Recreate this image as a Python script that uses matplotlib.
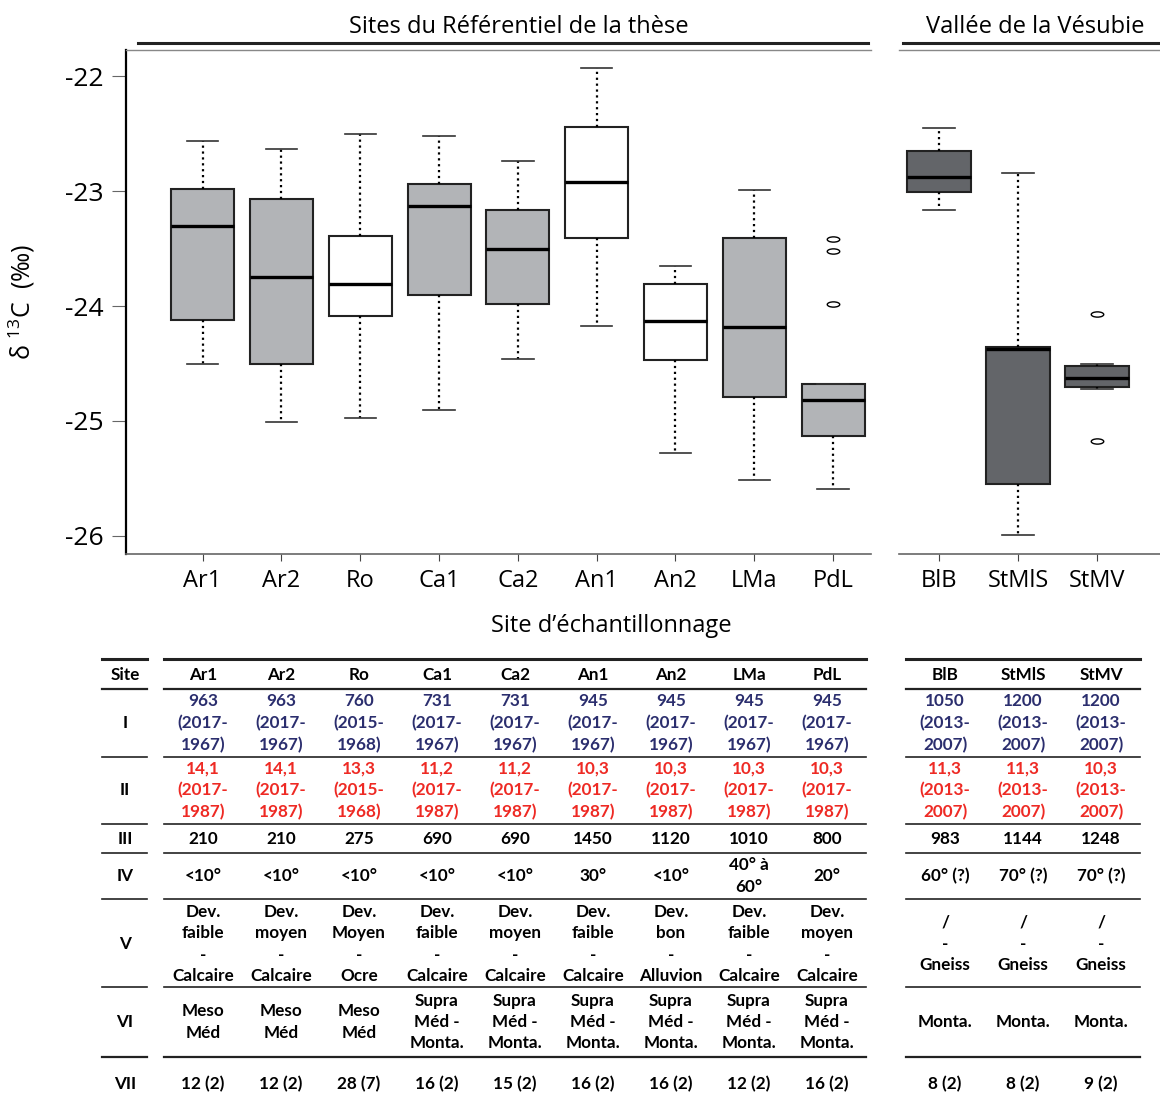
import numpy as np
import matplotlib
matplotlib.use('Agg')
import matplotlib.pyplot as plt
from matplotlib.lines import Line2D
from matplotlib.path import Path
from matplotlib.transforms import Affine2D

plt.rcParams['font.family'] = ['Open Sans', 'DejaVu Sans']
plt.rcParams['mathtext.default'] = 'regular'

# Data - delta 13C boxplot statistics
sites_ref = ['Ar1', 'Ar2', 'Ro', 'Ca1', 'Ca2', 'An1', 'An2', 'LMa', 'PdL']
whishi_ref = [-22.56, -22.63, -22.50, -22.52, -22.74, -21.93, -23.65, -22.99, -24.68]
q3_ref = [-22.98, -23.07, -23.39, -22.94, -23.16, -22.44, -23.81, -23.41, -24.68]
med_ref = [-23.30, -23.75, -23.81, -23.13, -23.50, -22.92, -24.13, -24.18, -24.82]
q1_ref = [-24.12, -24.50, -24.09, -23.90, -23.98, -23.41, -24.47, -24.79, -25.13]
whislo_ref = [-24.50, -25.01, -24.97, -24.90, -24.46, -24.17, -25.28, -25.51, -25.59]
fliers_ref = [[], [], [], [], [], [], [], [], [-23.42, -23.52, -23.98]]
colors_ref = ['#b2b4b7', '#b2b4b7', 'white', '#b2b4b7', '#b2b4b7',
              'white', 'white', '#b2b4b7', '#b2b4b7']

sites_ves = ['BlB', 'StMlS', 'StMV']
whishi_ves = [-22.45, -22.84, -24.50]
q3_ves = [-22.65, -24.36, -24.52]
med_ves = [-22.88, -24.37, -24.63]
q1_ves = [-23.01, -25.55, -24.70]
whislo_ves = [-23.16, -25.99, -24.72]
fliers_ves = [[], [], [-24.07, -25.17]]
colors_ves = ['#636569', '#636569', '#636569']

# Table
row_labels = ['Site', 'I', 'II', 'III', 'IV', 'V', 'VI', 'VII']
tab_ref = [
    sites_ref,
    ['963\n(2017-\n1967)', '963\n(2017-\n1967)', '760\n(2015-\n1968)', '731\n(2017-\n1967)',
     '731\n(2017-\n1967)', '945\n(2017-\n1967)', '945\n(2017-\n1967)', '945\n(2017-\n1967)',
     '945\n(2017-\n1967)'],
    ['14,1\n(2017-\n1987)', '14,1\n(2017-\n1987)', '13,3\n(2015-\n1968)', '11,2\n(2017-\n1987)',
     '11,2\n(2017-\n1987)', '10,3\n(2017-\n1987)', '10,3\n(2017-\n1987)', '10,3\n(2017-\n1987)',
     '10,3\n(2017-\n1987)'],
    ['210', '210', '275', '690', '690', '1450', '1120', '1010', '800'],
    ['<10°', '<10°', '<10°', '<10°', '<10°', '30°', '<10°', '40° à\n60°', '20°'],
    ['Dev.\nfaible\n-\nCalcaire', 'Dev.\nmoyen\n-\nCalcaire', 'Dev.\nMoyen\n-\nOcre',
     'Dev.\nfaible\n-\nCalcaire', 'Dev.\nmoyen\n-\nCalcaire', 'Dev.\nfaible\n-\nCalcaire',
     'Dev.\nbon\n-\nAlluvion', 'Dev.\nfaible\n-\nCalcaire', 'Dev.\nmoyen\n-\nCalcaire'],
    ['Meso\nMéd', 'Meso\nMéd', 'Meso\nMéd', 'Supra\nMéd -\nMonta.', 'Supra\nMéd -\nMonta.',
     'Supra\nMéd -\nMonta.', 'Supra\nMéd -\nMonta.', 'Supra\nMéd -\nMonta.', 'Supra\nMéd -\nMonta.'],
    ['12 (2)', '12 (2)', '28 (7)', '16 (2)', '15 (2)', '16 (2)', '16 (2)', '12 (2)', '16 (2)'],
]
tab_ves = [
    sites_ves,
    ['1050\n(2013-\n2007)', '1200\n(2013-\n2007)', '1200\n(2013-\n2007)'],
    ['11,3\n(2013-\n2007)', '11,3\n(2013-\n2007)', '10,3\n(2013-\n2007)'],
    ['983', '1144', '1248'],
    ['60° (?)', '70° (?)', '70° (?)'],
    ['/\n-\nGneiss', '/\n-\nGneiss', '/\n-\nGneiss'],
    ['Monta.', 'Monta.', 'Monta.'],
    ['8 (2)', '8 (2)', '9 (2)'],
]
row_colors = ['black', '#2b2e6e', '#ee2a24', 'black', 'black', 'black', 'black', 'black']

# layout (pixels)
W, H = 1160, 1093
row_y = [675, 723, 790, 839, 876, 944, 1022, 1084]
line_y = [659, 689, 757, 824, 853, 899, 987, 1057]
line_w = [2.2, 1.6, 1.2, 1.2, 1.2, 1.2, 1.2, 1.6]

fig = plt.figure(figsize=(W / 100, H / 100), dpi=100)


def rect(x0, y0, x1, y1):
    return [x0 / W, 1 - y1 / H, (x1 - x0) / W, (y1 - y0) / H]


def fig_hline(x0, x1, y, lw, color):
    fig.add_artist(Line2D([x0 / W, x1 / W], [1 - y / H, 1 - y / H],
                          transform=fig.transFigure, lw=lw, color=color))


def make_stats(names, lo, q1, med, q3, hi, fl):
    return [dict(label=n, whislo=a, q1=b, med=c, q3=d, whishi=e, fliers=f)
            for n, a, b, c, d, e, f in zip(names, lo, q1, med, q3, hi, fl)]


ellipse = Path.unit_circle().transformed(Affine2D().scale(1, 0.42))
ylim = (-26.155, -21.771)


def draw_boxes(ax, stats, colors):
    bp = ax.bxp(stats, positions=np.arange(1, len(stats) + 1), widths=0.8,
                capwidths=0.4, patch_artist=True,
                boxprops=dict(edgecolor='#222222', linewidth=1.5),
                whiskerprops=dict(color='black', linestyle=':', linewidth=1.6),
                capprops=dict(color='#333333', linewidth=1.2),
                medianprops=dict(color='black', linewidth=2.4),
                flierprops=dict(marker=ellipse, markersize=9, markerfacecolor='none',
                                markeredgecolor='black', markeredgewidth=1.0))
    for patch, c in zip(bp['boxes'], colors):
        patch.set_facecolor(c)
    ax.set_ylim(*ylim)
    ax.spines['right'].set_visible(False)
    ax.spines['top'].set_color('#888888')
    ax.spines['top'].set_linewidth(1.0)
    ax.spines['bottom'].set_color('#666666')
    ax.spines['bottom'].set_linewidth(1.2)
    ax.tick_params(axis='x', length=5, color='#444444', labelsize=17, pad=6)


ax1 = fig.add_axes(rect(126, 50, 871, 553.7))
draw_boxes(ax1, make_stats(sites_ref, whislo_ref, q1_ref, med_ref, q3_ref, whishi_ref, fliers_ref),
           colors_ref)
ax1.set_xlim(0.027, 9.481)
ax1.spines['left'].set_linewidth(1.6)
ax1.set_yticks([-22, -23, -24, -25, -26])
ax1.set_yticklabels(['-22', '-23', '-24', '-25', '-26'])
ax1.tick_params(axis='y', length=10, color='#666666', labelsize=19, pad=6)
ax1.set_ylabel('δ $^{13}$C  (‰)', fontsize=18, labelpad=20)

ax2 = fig.add_axes(rect(899, 50, 1160, 553.7))
draw_boxes(ax2, make_stats(sites_ves, whislo_ves, q1_ves, med_ves, q3_ves, whishi_ves, fliers_ves),
           colors_ves)
ax2.set_xlim(0.495, 3.797)
ax2.spines['left'].set_visible(False)
ax2.set_yticks([])

# group titles
fig.text(519 / W, 1 - 27 / H, 'Sites du Référentiel de la thèse', fontsize=17, ha='center', va='center')
fig.text(1035 / W, 1 - 27 / H, 'Vallée de la Vésubie', fontsize=17, ha='center', va='center')
fig_hline(138, 868, 43, 2.2, '#222222')
fig_hline(903, 1160, 43, 2.2, '#222222')
fig.text(611 / W, 1 - 626 / H, 'Site d’échantillonnage', fontsize=17, ha='center', va='center')


# table
def draw_table(ax, table, with_labels):
    ax.set_ylim(H, 650)
    ax.axis('off')
    ncol = len(table[0])
    for r, (row, yc) in enumerate(zip(table, row_y)):
        for c, txt in enumerate(row):
            ax.text(c + 1, yc, txt, ha='center', va='center', fontsize=12.3,
                    family=['Lato', 'DejaVu Sans'], weight='bold', color=row_colors[r],
                    linespacing=1.42)
        if with_labels:
            ax.text(0, yc, row_labels[r], ha='center', va='center', fontsize=12.3,
                    family=['Lato', 'DejaVu Sans'], weight='bold')
    for yl, lw in zip(line_y, line_w):
        ax.plot([0.5, ncol + 0.5], [yl, yl], color='#222222', lw=lw, clip_on=False)
        if with_labels:
            ax.plot([-0.29, 0.28], [yl, yl], color='#222222', lw=lw, clip_on=False)


tl = fig.add_axes(rect(0, 650, 880, H))
tl.set_xlim(1 - 203 / 78, 1 + (880 - 203) / 78)
draw_table(tl, tab_ref, True)

tr = fig.add_axes(rect(880, 650, 1160, H))
tr.set_xlim(1 + (880 - 945) / 78, 1 + (1160 - 945) / 78)
draw_table(tr, tab_ves, False)

fig.savefig('out.png', dpi=100)
